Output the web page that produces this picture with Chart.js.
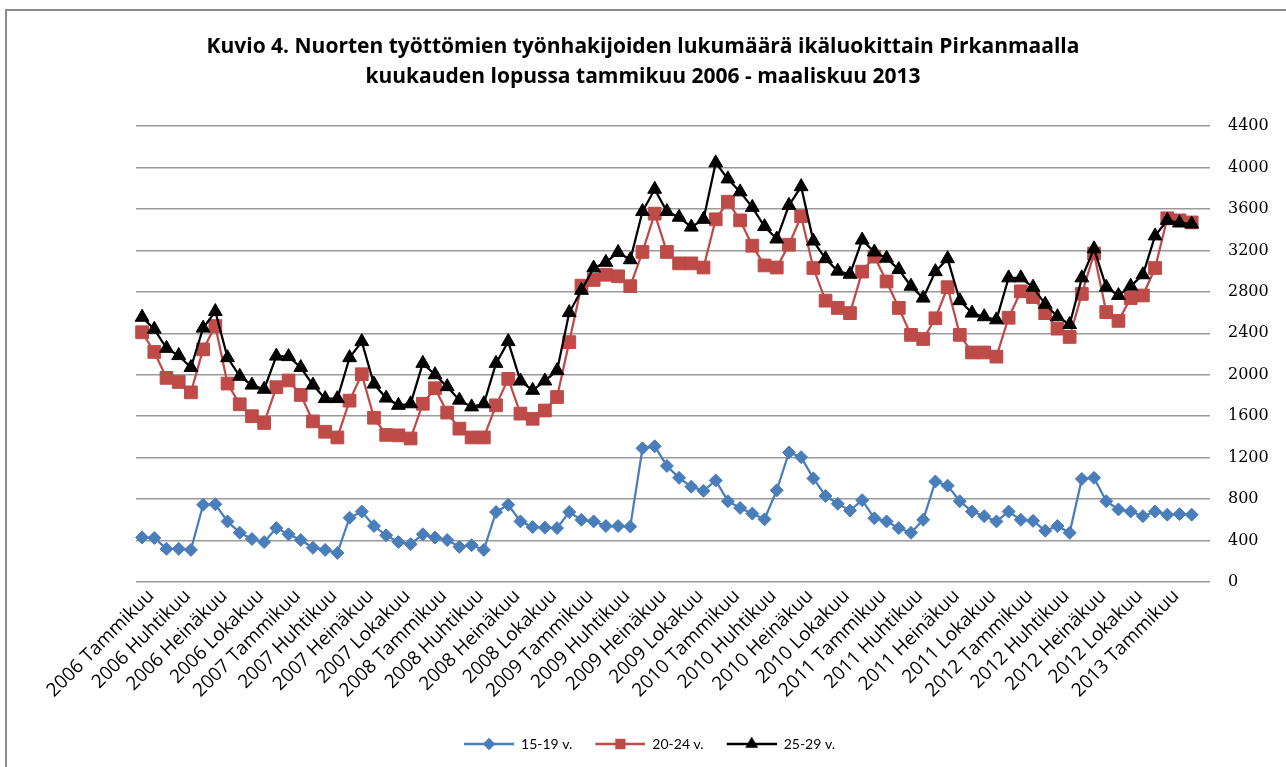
<!DOCTYPE html>
<html>
<head>
<meta charset="utf-8">
<script src="https://cdn.jsdelivr.net/npm/chart.js@4.4.1/dist/chart.umd.min.js"></script>
<style>
  html, body { margin: 0; padding: 0; background: #fff; }
  #wrap { position: relative; width: 1286px; height: 767px; overflow: hidden; }
  #frame { position: absolute; left: 5px; top: 9px; width: 1400px; height: 900px;
           border: 2px solid #8c8c8c; box-sizing: border-box; pointer-events: none; }
  canvas { position: absolute; left: 0; top: 0; }
</style>
</head>
<body>
<div id="wrap">
  <canvas id="chart" width="1286" height="767"></canvas>
  <div id="frame"></div>
</div>
<script>
// ─── Data (kuukauden lopussa, tammikuu 2006 – maaliskuu 2013) ───
const YEARS = [2006, 2007, 2008, 2009, 2010, 2011, 2012, 2013];
const MONTHS = ['Tammikuu', 'Helmikuu', 'Maaliskuu', 'Huhtikuu', 'Toukokuu', 'Kesäkuu',
                'Heinäkuu', 'Elokuu', 'Syyskuu', 'Lokakuu', 'Marraskuu', 'Joulukuu'];
const N_CATEGORIES = 88;   // axis runs one empty slot past maaliskuu 2013
const LABEL_EVERY = 3;

const TITLE = [
  'Kuvio 4. Nuorten työttömien työnhakijoiden lukumäärä ikäluokittain Pirkanmaalla',
  'kuukauden lopussa tammikuu 2006 - maaliskuu 2013'
];
const SERIES_NAMES = ['15-19 v.', '20-24 v.', '25-29 v.'];

const age15_19 = [
  430, 425, 320, 320, 310, 745, 750, 585, 475, 415, 385, 520,
  460, 405, 330, 310, 280, 620, 680, 540, 450, 385, 365, 460,
  430, 405, 340, 355, 310, 675, 745, 585, 530, 525, 520, 675,
  600, 585, 540, 540, 535, 1290, 1310, 1120, 1005, 920, 880, 980,
  780, 715, 660, 605, 885, 1250, 1205, 1000, 830, 755, 690, 790,
  615, 585, 520, 475, 600, 970, 930, 780, 680, 635, 585, 680,
  600, 590, 495, 540, 475, 995, 1005, 780, 700, 680, 635, 680,
  650, 655, 650
];
const age20_24 = [
  2410, 2220, 1970, 1930, 1830, 2245, 2470, 1915, 1715, 1600, 1535, 1880,
  1945, 1805, 1550, 1450, 1395, 1750, 2005, 1585, 1420, 1415, 1385, 1720,
  1870, 1635, 1480, 1395, 1395, 1705, 1960, 1625, 1575, 1655, 1785, 2315,
  2860, 2915, 2965, 2950, 2855, 3185, 3555, 3185, 3075, 3075, 3035, 3500,
  3670, 3490, 3245, 3055, 3035, 3255, 3530, 3030, 2715, 2645, 2595, 2995,
  3140, 2900, 2645, 2385, 2345, 2545, 2845, 2385, 2215, 2215, 2175, 2550,
  2805, 2750, 2595, 2445, 2365, 2780, 3170, 2605, 2520, 2740, 2765, 3030,
  3510, 3490, 3470
];
const age25_29 = [
  2555, 2440, 2255, 2185, 2070, 2450, 2610, 2165, 1985, 1900, 1860, 2180,
  2175, 2070, 1900, 1770, 1770, 2165, 2320, 1910, 1775, 1705, 1720, 2110,
  2000, 1885, 1755, 1690, 1720, 2110, 2320, 1940, 1850, 1940, 2040, 2600,
  2815, 3030, 3085, 3180, 3110, 3575, 3790, 3575, 3520, 3425, 3500, 4045,
  3890, 3765, 3615, 3430, 3310, 3635, 3815, 3290, 3120, 3000, 2970, 3300,
  3185, 3125, 3015, 2855, 2740, 2995, 3120, 2715, 2595, 2560, 2530, 2935,
  2935, 2845, 2680, 2560, 2485, 2935, 3215, 2845, 2765, 2855, 2965, 3340,
  3490, 3465, 3455
];

const Y_MIN = 0;
const Y_MAX = 4400;
const Y_STEP = 400;

// category labels "2006 Tammikuu" ...
const categories = [];
YEARS.forEach(y => MONTHS.forEach(m => categories.push(y + ' ' + m)));
categories.length = N_CATEGORIES;

// ─── Styling ───
const COLORS = ['#4a7ebb', '#be4b48', '#000000'];
const MARKERS = ['rectRot', 'rect', 'triangle'];
const RADII = [6.5, 9, 8];
const LEGEND_RADII = [4.5, 5.5, 5];

// legend swatch: short line with the marker in its middle (Excel style)
function legendSwatch(color, style, radius) {
  const c = document.createElement('canvas');
  c.width = 63; c.height = 16;
  const g = c.getContext('2d');
  g.strokeStyle = color;
  g.fillStyle = color;
  g.lineWidth = 2.5;
  g.beginPath();
  g.moveTo(13, 8);
  g.lineTo(63, 8);
  g.stroke();
  Chart.helpers.drawPoint(g, { pointStyle: style, radius: radius, rotation: 0, borderWidth: 1 }, 38, 8);
  return c;
}

function makeSeries(i, data) {
  return {
    label: SERIES_NAMES[i],
    data: data,
    borderColor: COLORS[i],
    backgroundColor: COLORS[i],
    pointBackgroundColor: COLORS[i],
    pointBorderColor: COLORS[i],
    pointStyle: MARKERS[i],
    pointRadius: RADII[i],
    pointBorderWidth: 1,
    borderWidth: 2.25,
    tension: 0,
    order: 2 - i,   // black drawn on top, like the original
  };
}

new Chart(document.getElementById('chart'), {
  type: 'line',
  data: {
    labels: categories,
    datasets: [
      makeSeries(0, age15_19),
      makeSeries(1, age20_24),
      makeSeries(2, age25_29),
    ],
  },
  options: {
    responsive: false,
    animation: false,
    layout: { padding: { bottom: 6 } },
    plugins: {
      title: {
        display: true,
        text: TITLE,
        color: '#000',
        font: { family: 'Open Sans', size: 21, weight: 'bold', lineHeight: 1.43 },
        padding: { top: 32, bottom: 34 },
      },
      legend: {
        position: 'bottom',
        labels: {
          color: '#000',
          font: { family: 'Lato', size: 14 },
          usePointStyle: true,
          pointStyleWidth: 63,
          padding: 10,
          generateLabels(chart) {
            const items = Chart.defaults.plugins.legend.labels.generateLabels(chart);
            items.sort((a, b) => a.datasetIndex - b.datasetIndex);
            items.forEach(it => {
              const i = it.datasetIndex;
              it.pointStyle = legendSwatch(COLORS[i], MARKERS[i], LEGEND_RADII[i]);
            });
            return items;
          },
        },
      },
      tooltip: { enabled: false },
    },
    scales: {
      x: {
        offset: true,
        grid: { display: false, drawTicks: false },
        border: { display: false },
        ticks: {
          autoSkip: false,
          minRotation: 45,
          maxRotation: 45,
          padding: 3,
          labelOffset: 9,
          color: '#000',
          font: { family: 'Open Sans', size: 19 },
          callback(value, index) {
            const show = index % LABEL_EVERY === 0 && index < age15_19.length;
            return show ? this.getLabelForValue(value) : '';
          },
        },
        afterFit(scale) {
          scale.paddingLeft = 136;
          scale.paddingRight = 0;
          scale.height = 145;
        },
      },
      y: {
        position: 'right',
        min: Y_MIN,
        max: Y_MAX,
        grid: { color: '#9a9a9a', lineWidth: 1.5, drawTicks: false },
        border: { display: false },
        ticks: {
          stepSize: Y_STEP,
          padding: 18,
          color: '#000',
          font: { family: 'DejaVu Serif', size: 16 },
          callback: value => String(value),
        },
        afterFit(scale) {
          scale.width = 76;
        },
      },
    },
  },
});
</script>
</body>
</html>
